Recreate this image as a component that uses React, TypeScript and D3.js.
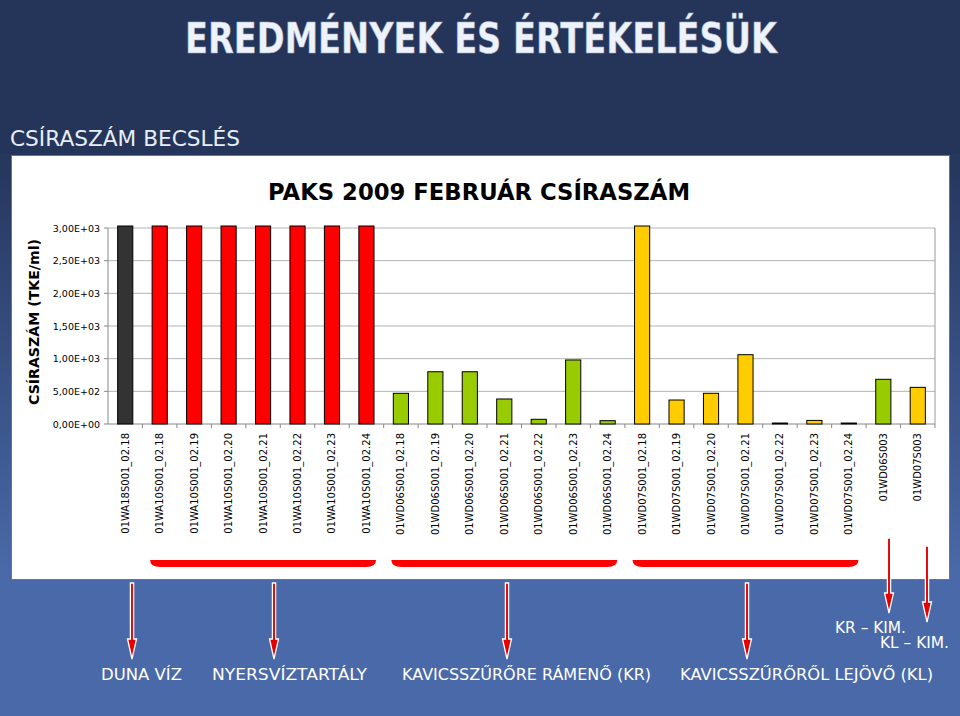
import React from 'react';
import * as d3 from 'd3';

const categories = [
  '01WA18S001_02.18',
  '01WA10S001_02.18', '01WA10S001_02.19', '01WA10S001_02.20', '01WA10S001_02.21',
  '01WA10S001_02.22', '01WA10S001_02.23', '01WA10S001_02.24',
  '01WD06S001_02.18', '01WD06S001_02.19', '01WD06S001_02.20', '01WD06S001_02.21',
  '01WD06S001_02.22', '01WD06S001_02.23', '01WD06S001_02.24',
  '01WD07S001_02.18', '01WD07S001_02.19', '01WD07S001_02.20', '01WD07S001_02.21',
  '01WD07S001_02.22', '01WD07S001_02.23', '01WD07S001_02.24',
  '01WD06S003', '01WD07S003',
];
const values = [
  3000, 3000, 3000, 3000, 3000, 3000, 3000, 3000,
  470, 800, 800, 383, 72, 980, 51,
  3000, 367, 470, 1061, 15, 55, 15,
  684, 561,
];
const groups = [
  'duna', 'nyers', 'nyers', 'nyers', 'nyers', 'nyers', 'nyers', 'nyers',
  'kr', 'kr', 'kr', 'kr', 'kr', 'kr', 'kr',
  'kl', 'kl', 'kl', 'kl', 'kl', 'kl', 'kl',
  'kr', 'kl',
];
const groupColors: Record<string, string> = { duna: '#333333', nyers: '#ff0000', kr: '#99cc00', kl: '#ffcc00' };
const yTicks = [0, 500, 1000, 1500, 2000, 2500, 3000];
const bracketRanges = [[1, 7], [8, 14], [15, 21]];
const bottomLabels = ['DUNA VÍZ', 'NYERSVÍZTARTÁLY', 'KAVICSSZŰRŐRE RÁMENŐ (KR)', 'KAVICSSZŰRŐRŐL LEJÖVŐ (KL)'];
const kimLabels = ['KR – KIM.', 'KL – KIM.'];
const pageTitle = 'EREDMÉNYEK ÉS ÉRTÉKELÉSÜK';
const subTitle = 'CSÍRASZÁM BECSLÉS';
const chartTitle = 'PAKS 2009 FEBRUÁR CSÍRASZÁM';
const yAxisTitle = 'CSÍRASZÁM (TKE/ml)';

const fmt = (v: number) => {
  if (v === 0) return '0,00E+00';
  const e = Math.floor(Math.log10(v));
  const m = v / Math.pow(10, e);
  return m.toFixed(2).replace('.', ',') + 'E+' + String(e).padStart(2, '0');
};

const Arrow = ({ x, y1, y2 }: { x: number; y1: number; y2: number }) => {
  const sw = 1.6, hw = 4.5, hh = 20;
  const pts = [
    [x - sw, y1], [x + sw, y1], [x + sw, y2 - hh], [x + hw, y2 - hh], [x, y2],
    [x - hw, y2 - hh], [x - sw, y2 - hh],
  ];
  return <polygon points={pts.map(p => p.join(',')).join(' ')} fill="#e60000" stroke="#ffffff" strokeWidth={1.3} strokeLinejoin="miter" />;
};

export default function App() {
  const W = 960, H = 716;
  const plot = { l: 108, r: 935, t: 228, b: 424 };
  const x = d3.scaleBand<string>().domain(categories).range([plot.l, plot.r]).paddingInner(0.56).paddingOuter(0.28);
  const y = d3.scaleLinear().domain([0, 3000]).range([plot.b, plot.t]).clamp(true);
  const step = x.step();
  const comic = '"Comic Sans MS", "DejaVu Sans", sans-serif';
  const verd = 'Verdana, "DejaVu Sans", sans-serif';

  const bracketPath = (a: number, b: number) => {
    const x1 = (x(categories[a]) as number) - 2;
    const x2 = (x(categories[b]) as number) + x.bandwidth() + 2;
    const t = 560, bt = 567, r = 10;
    return `M${x1},${t} L${x2},${t} Q${x2},${bt} ${x2 - r},${bt} L${x1 + r},${bt} Q${x1},${bt} ${x1},${t} Z`;
  };

  return (
    <svg width={W} height={H} style={{ position: 'absolute', left: 0, top: 0, display: 'block' }}>
      <defs>
        <linearGradient id="bg" x1="0" y1="0" x2="0" y2="1">
          <stop offset="0" stopColor="#24345a" />
          <stop offset="0.24" stopColor="#27385f" />
          <stop offset="0.8" stopColor="#4a69a8" />
          <stop offset="1" stopColor="#4a69a8" />
        </linearGradient>
      </defs>
      <rect x={0} y={0} width={W} height={H} fill="url(#bg)" />
      <rect x={0} y={0} width={W} height={154} fill="#25355a" />
      <rect x={0} y={581} width={W} height={H - 581} fill="#4a69a8" />

      <text x={185} y={53} textLength={592} lengthAdjust="spacingAndGlyphs" fill="#eef2fa" stroke="#9fb0cc" strokeWidth={0.5}
        fontFamily={comic} fontWeight="bold" fontSize={42}>{pageTitle}</text>
      <text x={10} y={146} textLength={230} lengthAdjust="spacingAndGlyphs" fill="#e8eef8"
        fontFamily={comic} fontSize={22}>{subTitle}</text>

      <rect x={11.5} y={155.5} width={938} height={424} fill="#ffffff" stroke="#5a75aa" strokeWidth={1} />

      <text x={479} y={200} textAnchor="middle" textLength={422} lengthAdjust="spacingAndGlyphs"
        fontFamily={comic} fontWeight="bold" fontSize={23} fill="#000">{chartTitle}</text>

      {yTicks.map(t => (
        <g key={t}>
          {t > 0 && <line x1={plot.l} x2={plot.r} y1={y(t)} y2={y(t)} stroke="#b3b3b3" strokeWidth={1} />}
          <line x1={plot.l - 4} x2={plot.l} y1={y(t)} y2={y(t)} stroke="#888" strokeWidth={1} />
          <text x={100} y={y(t) + 3.5} textAnchor="end" fontFamily={verd} fontSize={9.5} fill="#000">{fmt(t)}</text>
        </g>
      ))}
      <line x1={plot.r} x2={plot.r} y1={plot.t} y2={plot.b} stroke="#999" strokeWidth={1} />
      <line x1={plot.l} x2={plot.l} y1={plot.t} y2={plot.b} stroke="#888" strokeWidth={1} />
      <line x1={plot.l} x2={plot.r} y1={plot.b} y2={plot.b} stroke="#888" strokeWidth={1} />
      {categories.map((c, i) => (
        <line key={'tk' + i} x1={plot.l + step * (i + 1)} x2={plot.l + step * (i + 1)} y1={plot.b} y2={plot.b + 4} stroke="#888" />
      ))}

      {categories.map((c, i) => (
        <rect key={c} x={x(c)} y={y(values[i]) - (values[i] >= 3000 ? 2 : 0)} width={x.bandwidth()}
          height={plot.b - y(values[i]) + (values[i] >= 3000 ? 2 : 0)}
          fill={groupColors[groups[i]]} stroke="#000" strokeWidth={1} />
      ))}

      {categories.map((c, i) => {
        const cx = (x(c) as number) + x.bandwidth() / 2;
        return (
          <text key={'lb' + i} transform={`translate(${cx + 3.5},${433}) rotate(-90)`} textAnchor="end"
            fontFamily={verd} fontSize={10} fill="#000">{c}</text>
        );
      })}

      <text transform={`translate(39,322) rotate(-90)`} textAnchor="middle" fontFamily={comic} fontWeight="bold"
        fontSize={14} fill="#000" textLength={166} lengthAdjust="spacingAndGlyphs">{yAxisTitle}</text>

      {bracketRanges.map(([a, b], i) => (
        <path key={'br' + i} d={bracketPath(a, b)} fill="#ff0000" />
      ))}

      <Arrow x={132} y1={583} y2={659} />
      <Arrow x={274} y1={583} y2={659} />
      <Arrow x={507} y1={583} y2={659} />
      <Arrow x={747} y1={583} y2={659} />
      <Arrow x={889} y1={538} y2={613} />
      <Arrow x={927} y1={546} y2={622} />

      {[
        [101, 81], [212, 155], [402, 249], [680, 253],
      ].map(([lx, lw], i) => (
        <text key={'bl' + i} x={lx} y={680} textLength={lw} lengthAdjust="spacingAndGlyphs" fill="#ffffff"
          fontFamily={comic} fontSize={15}>{bottomLabels[i]}</text>
      ))}
      <text x={835} y={633} textLength={71} lengthAdjust="spacingAndGlyphs" fill="#fff" fontFamily={comic} fontSize={15}>{kimLabels[0]}</text>
      <text x={880} y={648} textLength={69} lengthAdjust="spacingAndGlyphs" fill="#fff" fontFamily={comic} fontSize={15}>{kimLabels[1]}</text>
    </svg>
  );
}
